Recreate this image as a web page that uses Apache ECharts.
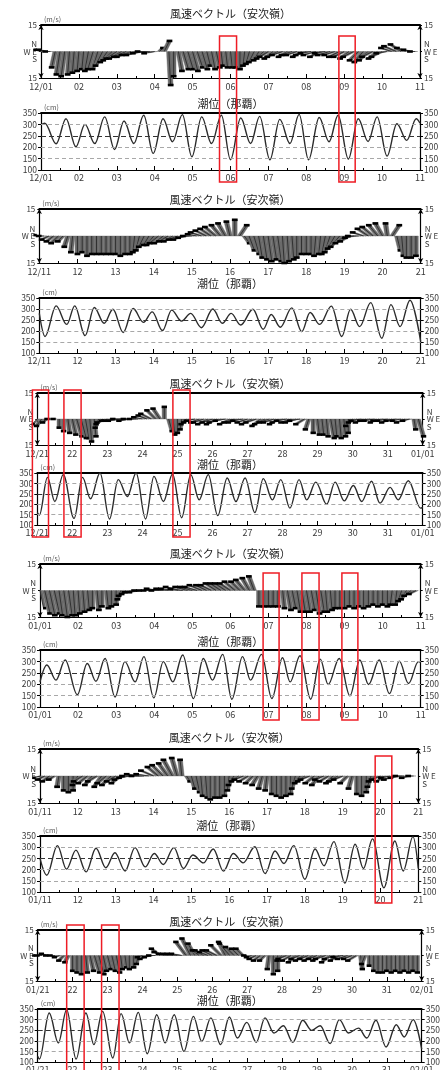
<!DOCTYPE html>
<html><head><meta charset="utf-8">
<script src="https://cdn.jsdelivr.net/npm/echarts@6/dist/echarts.min.js"></script>
<style>html,body{margin:0;padding:0;background:#fff}#c{width:444px;height:1070px}</style>
</head><body><div id="c"></div>
<script>
// ---------- tick labels ----------
const p1Labels = ['12/01','02','03','04','05','06','07','08','09','10','11'];
const p2Labels = ['12/11','12','13','14','15','16','17','18','19','20','21'];
const p3Labels = ['12/21','22','23','24','25','26','27','28','29','30','31','01/01'];
const p4Labels = ['01/01','02','03','04','05','06','07','08','09','10','11'];
const p5Labels = ['01/11','12','13','14','15','16','17','18','19','20','21'];
const p6Labels = ['01/21','22','23','24','25','26','27','28','29','30','31','02/01'];
const windStep = 0.125; // 3-hourly samples (days)

// ---------- wind vectors (u: east m/s, v: north m/s), 3-hourly ----------
const p1V = [1,1,0,-9,-13,-14,-13,-12, -11,-10,-11,-10,-10,-8,-6,-5, -4,-4,-3,-3,-2,-2,-1,0, -1,2,6,-19,-14,-11,-10,-10,
  -11,-9,-10,-8,-10,-9,-8,-9, -9,-9,-10,-8,-7,-6,-5,-4, -3,-4,-3,-2,-3,-2,-2,-3, -2,-1,-2,-3,-1,-2,-2,-3,
  -3,-4,-3,-5,-6,-5,-3,-4, -3,-1,2,3,4,2,1,0];
const p1U = [-4,-4,-3,-2,-2,-2,-1,-1, -1,-1,-2,-3,-3,-4,-4,-5, -6,-7,-7,-8,-8,-8,-7,-7, -6,2,3,1,0,2,3,3,
  3,3,3,2,2,2,1,1, 1,0,0,-1,-2,-3,-3,-4, -5,-5,-6,-6,-5,-6,-6,-5, -6,-6,-7,-6,-6,-7,-6,-6,
  -6,-5,-6,-5,-5,-5,-6,-5, -6,-6,-6,-7,-6,-5,-4,-3];
const p2V = [0.5,0,-2,-3,-4,-3,-6,-9, -10,-9,-11,-10,-10,-10,-10,-10, -10,-11,-10,-10,-9,-8,-6,-5, -5,-4,-4,-3,-3,-2,-2,-1,
  0,1,2,3,4,5,6,7, 8,9,6,-4,-8,-10,-12,-13, -14,-13,-14,-15,-14,-13,-12,-10, -10,-10,-11,-10,-10,-9,-7,-6,
  -4,-3,-1,0,2,4,5,6, 7,7,6,-8,-11,-12,-12,-11];
const p2U = [-3,-3,-4,-4,-4,-3,-2,-1, 0,0,0,0,0,0,0,0, 0,0,0,0,-1,-2,-3,-3, -4,-5,-5,-5,-5,-5,-5,-5,
  -5,-5,-6,-6,-6,-6,-5,-4, -2,0,4,3,3,3,2,2, 2,2,2,1,1,1,0,0, 0,0,-1,-1,-2,-3,-4,-5,
  -5,-5,-5,-6,-6,-6,-6,-5, -4,-1,4,2,1,0,0,0];
const p3V = [-3,-4,-2,0,0,-5,-7,-8, -9,-10,-11,-11,-13,-10,-5,-3, -2,-1,-1,-1,0,-1,0,0, 1,2,3,5,6,7,-7,-9,
  -8,-6,-3,-2,-1,-2,-2,-3, -2,-3,-2,-1,-3,-2,-2,-1, -2,-3,-2,-4,-3,-2,-2,-3, -2,-1,-2,-2,-1,-3,-6,-8,
  -9,-9,-10,-11,-10,-11,-10,-8, -4,-2,-1,-2,-1,-1,-2,-1, -1,-2,-1,-1,-2,-1,-6,-10];
const p3U = [-3,-3,-2,-2,-1,0,0,1, 2,3,3,2,1,1,-2,-4, -6,-6,-7,-7,-7,-6,-6,-5, -5,-5,-6,-5,-4,0,2,1,
  0,-1,-3,-4,-5,-5,-6,-6, -6,-6,-7,-6,-6,-6,-6,-6, -6,-6,-6,-5,-6,-6,-6,-5, -6,-6,-6,-6,-6,-5,-2,0,
  1,1,1,2,1,1,1,0, -4,-5,-6,-6,-6,-6,-5,-6, -6,-6,-6,-5,-5,-4,1,3];
const p4V = [-10,-13,-14,-13,-14,-15,-14,-14, -13,-12,-11,-10,-11,-9,-10,-9, -8,-5,-3,-2,-1,-1,0,0, 0,1,0,1,1,2,1,2,
  2,2,3,3,3,4,4,4, 4,5,5,6,7,8,-9,-9, -9,-9,-9,-10,-11,-10,-12,-12, -12,-11,-13,-12,-12,-11,-10,-10,
  -10,-9,-10,-9,-10,-9,-8,-9, -8,-9,-8,-8,-6,-5,-3,-2];
const p4U = [2,3,3,3,2,2,2,1, 1,1,1,0,1,0,1,0, 0,-2,-4,-5,-6,-6,-6,-6, -6,-7,-7,-7,-7,-7,-7,-7,
  -7,-7,-7,-6,-6,-6,-6,-6, -6,-6,-5,-5,-4,-3,0,0, 0,0,0,1,2,2,2,2, 2,2,2,2,1,1,0,0,
  0,0,0,0,0,0,0,0, 0,0,-1,-1,-2,-3,-4,-4];
const p5V = [-1,-2,-3,-2,-6,-8,-9,-8, -5,-3,-4,-5,-3,-6,-4,-5, -3,-4,-2,-1,0,1,0,1, 3,5,6,7,9,10,9,-3,
  -7,-9,-11,-12,-13,-12,-12,-11, -8,-5,-3,-2,-3,-4,-5,-7, -8,-10,-11,-12,-11,-10,-7,-4, -3,-2,-4,-5,-2,-3,-4,-3,
  -2,-4,-7,-10,-11,-9,-6,-3, -2,-3,-1,-2,-1,0,-1,0];
const p5U = [-4,-4,-4,-3,-1,0,0,0, -3,-5,-5,-4,-5,-4,-5,-5, -5,-5,-6,-6,-7,-7,-7,-7, -7,-6,-6,-5,-5,-3,-1,2,
  2,2,1,1,0,0,0,0, -1,-3,-4,-5,-5,-4,-3,-2, -1,0,0,0,0,0,-2,-3, -4,-5,-5,-4,-5,-5,-4,-5,
  -5,-4,-2,0,0,0,-2,-4, -5,-5,-5,-6,-5,-5,-4,-3];
const p6V = [0,0,1,0,0,-1,-3,-4, -9,-10,-11,-10,-9,-10,-11,-9, -8,-9,-10,-8,-7,-8,-7,-5, -1,-2,-1,0,4,2,1,1,
  1,1,8,10,7,3,3,2, 3,3,6,8,7,5,4,4, 0,-1,-2,-3,-3,-8,-11,-9, -3,-2,-3,-4,-2,-3,-2,-3,
  -2,-3,-2,-4,-2,-3,-1,-2, -2,-3,-8,-5,-6,-9,-10,-10, -9,-10,-9,-10,-9,-10,-9,-10];
const p6U = [-3,-3,-3,-3,-3,-3,-3,-2, 0,0,0,1,2,3,3,2, 2,2,2,1,1,0,0,-1, -3,-4,-4,-4,-5,-6,-6,-6,
  -6,-6,-6,-5,-4,-4,-5,-5, -6,-6,-6,-4,-6,-5,-4,-4, -2,-3,-4,-4,-3,-1,0,0, -3,-5,-5,-4,-5,-5,-5,-5,
  -5,-5,-6,-5,-6,-5,-6,-6, -5,-5,1,-2,0,0,0,0, 0,0,0,0,0,0,0,0];

// ---------- tide (day offset, cm) : highs and lows ----------
const p1Tide = [[0,298],[0.1,305],[0.4,215],[0.66,325],[0.92,202],[1.16,300],[1.42,216],[1.68,333],[1.94,190],[2.19,315],[2.45,216],[2.71,340],[2.96,173],[3.22,325],[3.47,224],[3.73,343],[3.98,158],[4.24,333],[4.5,216],[4.76,340],[5.0,145],[5.27,328],[5.53,216],[5.77,335],[6.04,145],[6.3,322],[6.57,216],[6.81,344],[7.06,145],[7.34,330],[7.6,224],[7.84,340],[8.11,148],[8.37,325],[8.63,225],[8.87,333],[9.13,161],[9.39,303],[9.65,230],[9.9,325],[10,305]];
const p2Tide = [[0,280],[0.15,175],[0.44,314],[0.72,230],[0.93,314],[1.2,179],[1.44,307],[1.7,235],[1.93,299],[2.2,193],[2.46,302],[2.73,239],[2.96,287],[3.23,202],[3.47,295],[3.73,245],[3.97,280],[4.25,215],[4.55,300],[4.8,235],[5.03,280],[5.28,227],[5.6,299],[5.87,208],[6.08,275],[6.32,217],[6.62,305],[6.88,197],[7.1,284],[7.35,230],[7.66,313],[7.93,175],[8.16,299],[8.4,220],[8.69,329],[8.98,167],[9.22,320],[9.46,220],[9.72,340],[10,152]];
const p3Tide = [[0,160],[0.06,148],[0.29,329],[0.5,213],[0.74,342],[1.05,132],[1.29,329],[1.52,226],[1.79,350],[2.06,129],[2.31,318],[2.57,237],[2.82,350],[3.09,129],[3.33,334],[3.6,213],[3.86,345],[4.12,135],[4.38,342],[4.62,221],[4.88,342],[5.15,145],[5.42,326],[5.67,213],[5.93,326],[6.21,160],[6.45,323],[6.71,221],[6.95,318],[7.21,181],[7.47,318],[7.69,221],[7.95,306],[8.26,200],[8.5,306],[8.76,216],[9.02,290],[9.26,213],[9.54,310],[9.78,205],[10.07,281],[10.3,221],[10.59,313],[10.94,181],[11,185]];
const p4Tide = [[0,210],[0.18,284],[0.42,218],[0.66,306],[0.98,154],[1.24,291],[1.47,213],[1.71,313],[1.97,144],[2.23,299],[2.5,210],[2.73,321],[2.99,140],[3.24,299],[3.49,210],[3.75,328],[4.03,137],[4.29,313],[4.53,218],[4.8,331],[5.04,134],[5.32,321],[5.53,218],[5.82,331],[6.09,137],[6.37,316],[6.57,210],[6.83,325],[7.11,134],[7.36,310],[7.57,199],[7.86,313],[8.14,149],[8.4,306],[8.63,199],[8.91,306],[9.18,159],[9.44,301],[9.68,203],[9.94,299],[10,296]];
const p5Tide = [[0,250],[0.18,175],[0.46,307],[0.7,202],[0.95,287],[1.22,190],[1.48,295],[1.74,208],[1.98,275],[2.25,194],[2.51,298],[2.78,212],[3.02,272],[3.26,223],[3.54,298],[3.79,205],[4.04,265],[4.32,230],[4.58,292],[4.85,193],[5.11,272],[5.37,230],[5.68,302],[5.95,182],[6.21,283],[6.45,227],[6.71,307],[7.0,157],[7.27,292],[7.51,217],[7.77,325],[8.06,140],[8.33,313],[8.55,205],[8.79,337],[9.09,119],[9.38,328],[9.6,194],[9.86,347],[10,205]];
const p6Tide = [[0,127],[0.05,114],[0.33,331],[0.59,190],[0.83,347],[1.1,114],[1.38,331],[1.61,182],[1.86,339],[2.15,119],[2.39,328],[2.63,190],[2.88,334],[3.14,139],[3.41,323],[3.65,190],[3.91,323],[4.19,150],[4.46,315],[4.7,197],[4.96,308],[5.24,182],[5.49,312],[5.72,213],[5.99,287],[6.26,193],[6.51,308],[6.77,237],[7.04,271],[7.31,193],[7.59,297],[7.85,249],[8.09,271],[8.38,187],[8.64,300],[8.9,237],[9.19,260],[9.43,213],[9.69,297],[9.98,171],[10.27,276],[10.5,218],[10.76,300],[11,161]];
const tideGuides = [150, 200, 250, 300];
const tideMean = 250;

// ---------- highlighted periods (day offsets) ----------
const p1Boxes = [[4.71,5.16],[7.86,8.29]];
const p2Boxes = [];
const p3Boxes = [[-0.14,0.32],[0.76,1.25],[3.87,4.36]];
const p4Boxes = [[5.86,6.28],[6.88,7.33],[7.93,8.35]];
const p5Boxes = [[8.86,9.3]];
const p6Boxes = [[0.83,1.33],[1.83,2.33]];

const windTitle = '風速ベクトル（安次嶺）';
const tideTitle = '潮位（那覇）';

const panels = [
  {labels:p1Labels, u:p1U, v:p1V, tide:p1Tide, boxes:p1Boxes},
  {labels:p2Labels, u:p2U, v:p2V, tide:p2Tide, boxes:p2Boxes},
  {labels:p3Labels, u:p3U, v:p3V, tide:p3Tide, boxes:p3Boxes},
  {labels:p4Labels, u:p4U, v:p4V, tide:p4Tide, boxes:p4Boxes},
  {labels:p5Labels, u:p5U, v:p5V, tide:p5Tide, boxes:p5Boxes},
  {labels:p6Labels, u:p6U, v:p6V, tide:p6Tide, boxes:p6Boxes}
];

// ---------- page layout (pixels) ----------
const layout = [
  {l:41,   r:420,   wt:25,  wb:78,  tt:113,  tb:170,  wT:14,  tT:104,  box:[11,12]},
  {l:39.3, r:420.7, wt:209, wb:263, tt:298,  tb:353,  wT:200, tT:284,  box:[0,0]},
  {l:37.3, r:422.7, wt:393, wb:445, tt:473,  tb:525,  wT:384, tT:465,  box:[-3,12]},
  {l:40,   r:420.7, wt:564, wb:617, tt:650,  tb:707,  wT:554, tT:642,  box:[9,13]},
  {l:40,   r:418.3, wt:749, wb:803, tt:836,  tb:892,  wT:738, tT:826,  box:[7,11]},
  {l:37.7, r:421.7, wt:930, wb:981, tt:1009, tb:1062, wT:922, tT:1001, box:[-5,14]}
];

const FONT = "'Noto Sans CJK JP','Noto Sans',sans-serif";
const TXT = '#3a3a3a';

// each 3-hourly vector is drawn as a slanted band covering its sampling slot,
// which reproduces the dense hourly stick texture of the original plot
function makeWindRenderer(days) {
  return function (params, api) {
    const t = api.value(0), u = api.value(1), v = api.value(2);
    const half = windStep / 2;
    const a = api.coord([Math.max(0, t - half), 0]);
    const b = api.coord([Math.min(days, t + half), 0]);
    const tipY = api.coord([t, v])[1];
    const unit = Math.abs(api.coord([t, 1])[1] - a[1]);
    const off = u * unit;
    const ta = [a[0] + off, tipY], tb = [b[0] + off, tipY];
    const mid = api.coord([t, 0]);
    return {type:'group', children:[
      {type:'polygon', shape:{points:[a, b, tb, ta]}, style:{fill:'#6a6a6a', stroke:'#6a6a6a', lineWidth:0.4}},
      {type:'line', shape:{x1:mid[0], y1:mid[1], x2:mid[0] + off, y2:tipY}, style:{stroke:'#222', lineWidth:0.8}},
      {type:'line', shape:{x1:ta[0] - 0.5, y1:tipY, x2:tb[0] + 0.5, y2:tipY}, style:{stroke:'#000', lineWidth:2.6}}
    ]};
  };
}

const grids = [], xAxes = [], yAxes = [], series = [], texts = [];

panels.forEach((p, i) => {
  const L = layout[i];
  const days = p.labels.length - 1;
  const cx = (L.l + L.r) / 2;
  texts.push({type:'text', x:cx, y:L.wT, style:{text:windTitle, fontSize:11, fontFamily:FONT, fill:'#222',
    align:'center', verticalAlign:'middle', textAlign:'center', textVerticalAlign:'middle'}});
  texts.push({type:'text', x:cx, y:L.tT, style:{text:tideTitle, fontSize:11, fontFamily:FONT, fill:'#222',
    align:'center', verticalAlign:'middle', textAlign:'center', textVerticalAlign:'middle'}});

  [['wind', L.wt, L.wb], ['tide', L.tt, L.tb]].forEach(([kind, top, bot]) => {
    const g = grids.length;
    grids.push({left:L.l, top:top, width:L.r - L.l, height:bot - top, show:false, containLabel:false, outerBoundsMode:'none'});
    xAxes.push({gridIndex:g, type:'value', min:0, max:days, interval:1, position:'bottom',
      axisLine:{onZero:false, lineStyle:{color:'#000', width:1}},
      axisTick:{inside:true, length:4, lineStyle:{color:'#000', width:1}},
      minorTick:{show:true, splitNumber:2, length:2, lineStyle:{color:'#000', width:1}},
      splitLine:{show:false}, minorSplitLine:{show:false},
      axisLabel:{formatter:(val) => p.labels[Math.round(val)] || '', fontSize:9, color:TXT, fontFamily:FONT,
        margin:kind === 'wind' ? 4 : 3, hideOverlap:false, showMinLabel:true, showMaxLabel:true}});
    xAxes.push({gridIndex:g, type:'value', min:0, max:days, position:'top',
      axisLine:{onZero:false, lineStyle:{color:'#000', width:1.8}},
      axisTick:{show:false}, axisLabel:{show:false}, splitLine:{show:false}});
    const yBase = kind === 'wind'
      ? {min:-15, max:15, interval:15,
         axisLabel:{formatter:(val) => val === 0 ? 'N\nW E\nS' : String(Math.abs(val)), fontSize:8, lineHeight:7.5,
           color:TXT, fontFamily:FONT, margin:4, hideOverlap:false, showMinLabel:true, showMaxLabel:true},
         axisTick:{show:true, length:2, lineStyle:{color:'#000'}}}
      : {min:100, max:350, interval:50,
         axisLabel:{fontSize:8.5, color:TXT, fontFamily:FONT, margin:4, hideOverlap:false, showMinLabel:true, showMaxLabel:true},
         axisTick:{show:true, length:3, lineStyle:{color:'#000'}}};
    const nm = kind === 'wind' ? '(m/s)' : '(cm)';
    ['left', 'right'].forEach((pos) => {
      yAxes.push(Object.assign({gridIndex:g, type:'value', position:pos,
        name: pos === 'left' ? nm : '', nameLocation:'end', nameGap:2,
        nameTextStyle:{fontSize:7, color:'#555', fontFamily:FONT, align:'left', verticalAlign:'bottom', padding:[0,0,0,3]},
        axisLine:{show:true, onZero:false, lineStyle:{color:'#000', width:1.2},
          symbol: kind === 'wind' ? ['arrow','arrow'] : ['none','none'], symbolSize:[4,5]},
        splitLine:{show:false}}, yBase));
    });
    if (kind === 'wind') {
      series.push({type:'custom', xAxisIndex:2 * g, yAxisIndex:2 * g, renderItem:makeWindRenderer(days), silent:true, clip:false,
        encode:{x:0, y:2}, z:3,
        data:p.v.map((vv, j) => [j * windStep, p.u[j], vv])});
    } else {
      series.push({type:'line', xAxisIndex:2 * g, yAxisIndex:2 * g, data:p.tide, smooth:0.36, smoothMonotone:'x',
        symbol:'none', showSymbol:false, silent:true, z:3,
        lineStyle:{color:'#2b2b2b', width:1.4},
        markLine:{silent:true, symbol:'none', label:{show:false}, animation:false,
          data:tideGuides.map((gv) => ({yAxis:gv,
            lineStyle: gv === tideMean ? {color:'#333', width:1.2, type:[5,3]} : {color:'#a8a8a8', width:1, type:[4,3]}}))}});
    }
  });
});

const chart = echarts.init(document.getElementById('c'), null, {renderer:'canvas'});
chart.setOption({animation:false, backgroundColor:'#fff', grid:grids, xAxis:xAxes, yAxis:yAxes, series:series,
  graphic:{elements:texts}});

const rects = [];
panels.forEach((p, i) => {
  const L = layout[i];
  const gx = 2 * (2 * i);
  p.boxes.forEach(([a, b]) => {
    const xa = chart.convertToPixel({xAxisIndex:gx}, a);
    const xb = chart.convertToPixel({xAxisIndex:gx}, b);
    const y0 = L.wt + L.box[0], y1 = L.tb + L.box[1];
    rects.push({type:'rect', z:100, shape:{x:xa, y:y0, width:xb - xa, height:y1 - y0},
      style:{fill:'none', stroke:'#ee1c25', lineWidth:1.5}});
  });
});
chart.setOption({graphic:{elements:texts.concat(rects)}});
</script></body></html>
